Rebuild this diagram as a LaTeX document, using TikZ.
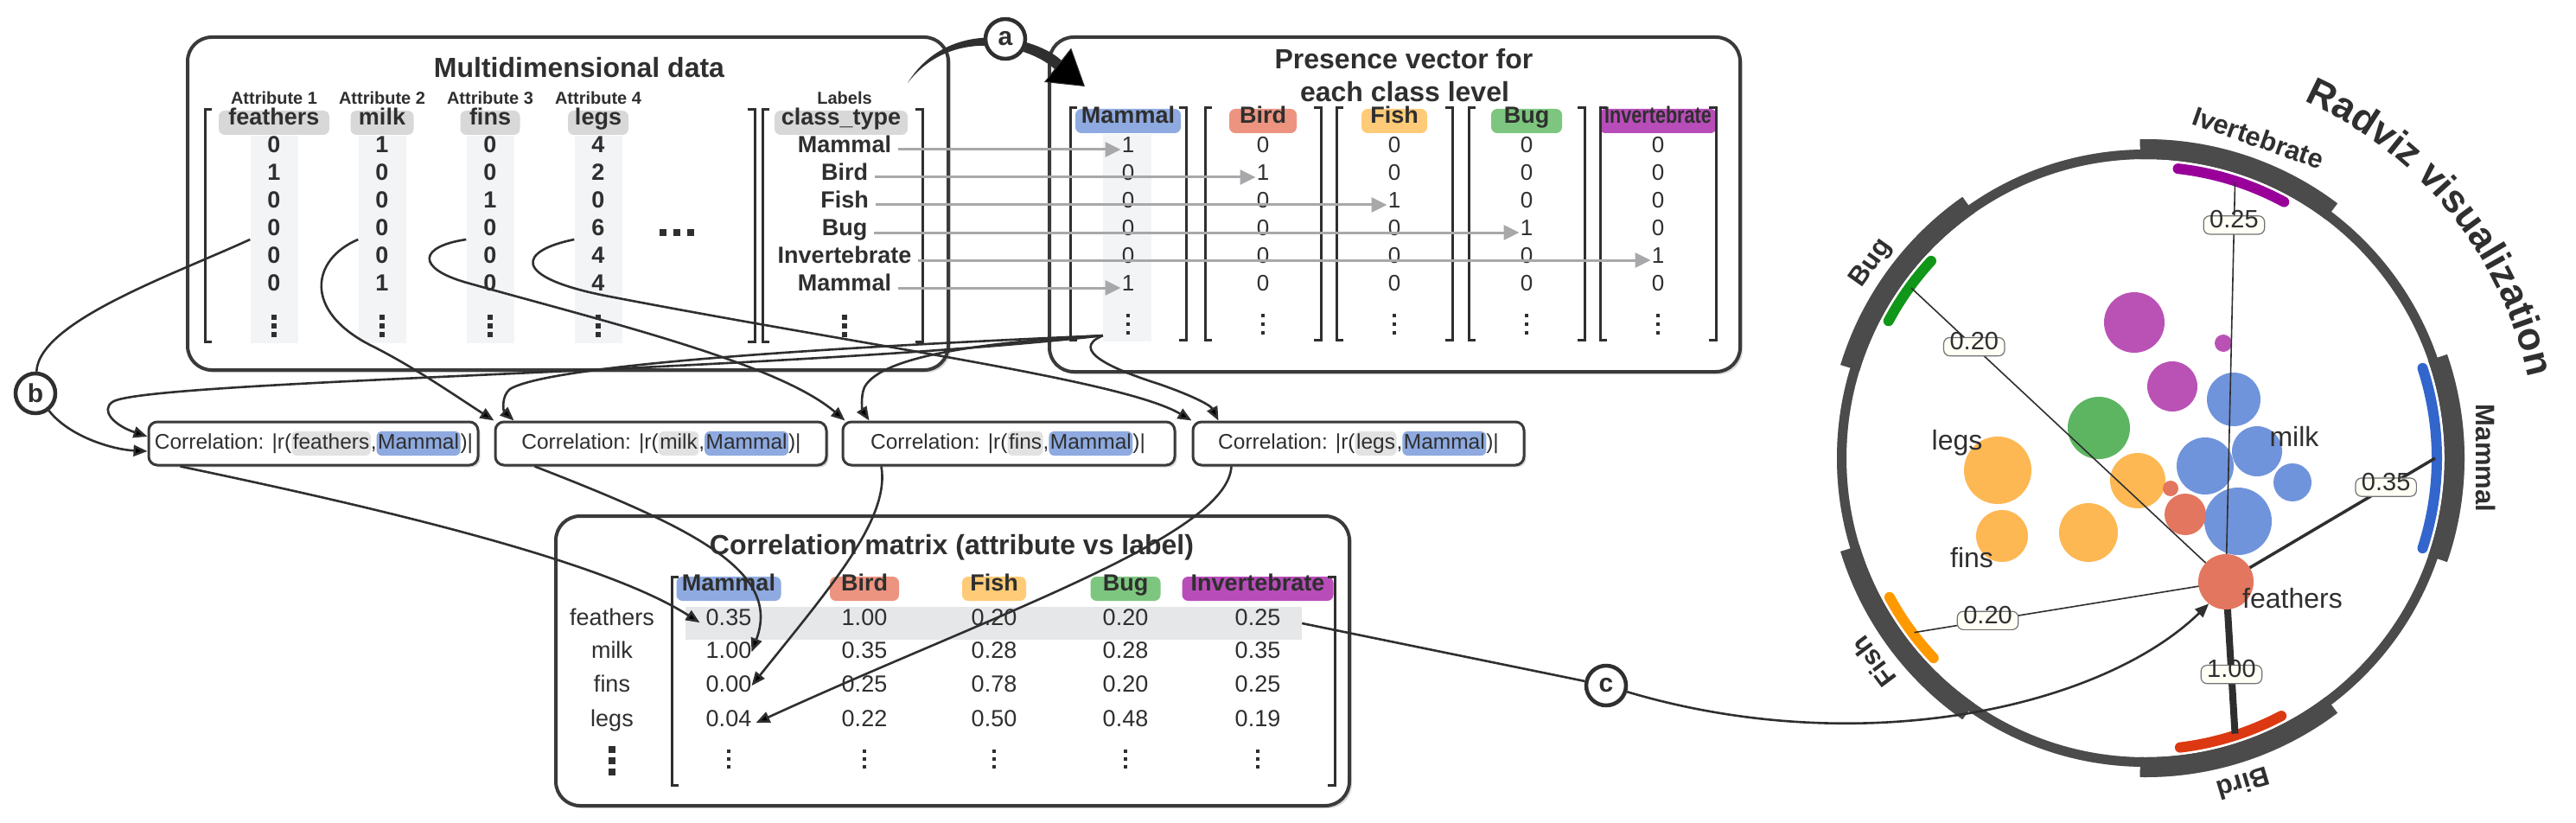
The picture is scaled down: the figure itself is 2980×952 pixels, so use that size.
\documentclass[tikz,border=0pt]{standalone}
\usepackage{fontspec}
\setmainfont{Liberation Sans}
\usepackage{graphicx}
\usetikzlibrary{arrows.meta,shadows,decorations.text,calc}
\newcommand{\fsz}[1]{\fontsize{#1}{#1}\selectfont}
\definecolor{ink}{HTML}{2F2F2F}
\definecolor{boxline}{HTML}{3A3A3A}
\definecolor{pillgray}{HTML}{D8D8D8}
\definecolor{hlgray}{HTML}{E2E2E2}
\definecolor{colbg}{HTML}{F3F4F6}
\definecolor{rowhl}{HTML}{E6E7E9}
\definecolor{cMammal}{HTML}{8EAAE0}
\definecolor{cBird}{HTML}{EC9480}
\definecolor{cFish}{HTML}{FFCB78}
\definecolor{cBug}{HTML}{7DC67F}
\definecolor{cInv}{HTML}{B84DB9}
\definecolor{arrgray}{HTML}{A8A8AA}
\definecolor{ringc}{HTML}{4B4B4B}
\definecolor{aMammal}{HTML}{3366CC}
\definecolor{aBird}{HTML}{DC3912}
\definecolor{aFish}{HTML}{FF9900}
\definecolor{aBug}{HTML}{109618}
\definecolor{aInv}{HTML}{990099}
\definecolor{pBlue}{HTML}{7094DB}
\definecolor{pOrange}{HTML}{FDB853}
\definecolor{pRed}{HTML}{E3765F}
\definecolor{pGreen}{HTML}{5DB562}
\definecolor{pPurple}{HTML}{BA52B6}
\definecolor{cream}{HTML}{FFFFF6}

\newcommand{\hlg}[1]{\tikz[baseline]\node[anchor=base,fill=hlgray,rounded corners=6pt,inner xsep=1.5pt,inner ysep=2.5pt,text height=.72em,text depth=.22em]{#1};}
\newcommand{\hlb}[1]{\tikz[baseline]\node[anchor=base,fill=cMammal,rounded corners=6pt,inner xsep=1.5pt,inner ysep=2.5pt,text height=.72em,text depth=.22em]{#1};}
\newcommand{\bL}[3]{\draw[brk] ({#1+8},-#2) -- ({#1},-#2) -- ({#1},-#3) -- ({#1+8},-#3);}
\newcommand{\bR}[3]{\draw[brk] ({#1-8},-#2) -- ({#1},-#2) -- ({#1},-#3) -- ({#1-8},-#3);}

\tikzset{
  bigbox/.style={draw=boxline, line width=4pt, rounded corners=28pt, fill=white, inner sep=0pt,
     drop shadow={shadow xshift=3pt, shadow yshift=-3pt, opacity=0.3}},
  corrbox/.style={draw=boxline, line width=3pt, rounded corners=10pt, fill=white, inner sep=0pt,
     minimum height=50pt, drop shadow={shadow xshift=2.5pt, shadow yshift=-2.5pt, opacity=0.3}},
  corrtext/.style={font=\fsz{24.5}, text=ink, inner sep=0pt},
  ttl/.style={font=\fsz{32}\bfseries, text=ink, inner sep=0pt},
  attr/.style={font=\fsz{20}\bfseries, text=ink, inner sep=0pt},
  pill/.style={rounded corners=7pt, inner xsep=6pt, inner ysep=0pt, minimum height=28pt,
     text height=.72em, text depth=.2em, font=\fsz{27}\bfseries, text=ink},
  dval/.style={font=\fsz{27}\bfseries, text=ink, inner sep=0pt, text height=.72em, text depth=0pt},
  pval/.style={font=\fsz{26}, text=ink, inner sep=0pt, text height=.72em, text depth=0pt},
  mval/.style={font=\fsz{27}, text=ink, inner sep=0pt, text height=.72em, text depth=0pt},
  colbox/.style={fill=colbg, inner sep=0pt, minimum width=55pt, minimum height=240pt},
  brk/.style={draw=ink, line width=3pt},
  grayarr/.style={draw=arrgray, line width=3pt, -{Triangle[length=18pt,width=17pt]}, shorten <=8pt, shorten >=1pt},
  conn/.style={draw=ink, line width=2.6pt},
  connarr/.style={conn, -{Triangle[length=16pt,width=13pt]}},
  marker/.style={circle, draw=ink, line width=4.5pt, fill=white, minimum size=46pt, inner sep=0pt, font=\fsz{30}\bfseries, text=ink,
     drop shadow={shadow xshift=2pt, shadow yshift=-2pt, opacity=0.3}},
  vlab/.style={draw=black!55, line width=1.2pt, fill=cream, rounded corners=7pt, font=\fsz{29}, text=ink,
     inner xsep=7pt, inner ysep=7pt, text height=.72em, text depth=0pt},
  ptlab/.style={font=\fsz{32}, text=ink, inner sep=0pt},
  anlab/.style={font=\fsz{31}\bfseries, text=ink, inner sep=0pt, anchor=base},
  pics/vdts/.style args={#1/#2}{code={\foreach \k in {-1,0,1} \fill[ink] ({-#1/2},{\k*#2-#1/2}) rectangle ++(#1,#1);}},
}

\begin{document}
\begin{tikzpicture}[x=1pt,y=1pt]
\useasboundingbox (0,0) rectangle (2980,-952);
\fill[white] (0,0) rectangle (2980,-952);

% ---------- big boxes
\node[bigbox, minimum width=880pt, minimum height=385pt] (data) at (657,-235.5) {};
\node[bigbox, minimum width=799pt, minimum height=387pt] (pres) at (1613.5,-236.5) {};
\node[bigbox, minimum width=918pt, minimum height=335pt] (cmat) at (1102,-764.5) {};

\node[ttl] (tdata) at (670,-78) {Multidimensional data};
\node[ttl] (tpres1) at (1624,-68) {Presence vector for};
\node[ttl] (tpres2) at (1625,-106) {each class level};
\node[ttl] (tmat) at (1101,-633) {Correlation matrix (attribute vs label)};

% ---------- multidimensional data
\foreach \x/\nm/\w/\va/\vb/\vc/\vd/\ve/\vf [count=\i] in
  {317/feathers/128/0/1/0/0/0/0, 442/milk/73/1/0/0/0/0/1, 567/fins/69/0/0/1/0/0/0, 692/legs/70/4/2/0/6/4/4}{
  \node[colbox] (dcol\i) at (\x,-277) {};
  \node[attr] (datt\i) at (\x,-113) {Attribute \i};
  \node[pill, fill=pillgray, minimum width=\w pt] (dhd\i) at (\x,-142) {\nm};
  \foreach \v [count=\j] in {\va,\vb,\vc,\vd,\ve,\vf}
    \node[dval] (d\i-\j) at (\x,{-173-32*(\j-1)}) {\v};
  \pic at (\x,-377) {vdts={5.5/10}};
}
\node[attr] (dlabh) at (977,-113) {Labels};
\node[pill, fill=pillgray, minimum width=154pt] (dcls) at (973,-142) {class\_type};
\foreach \lb [count=\j] in {Mammal,Bird,Fish,Bug,Invertebrate,Mammal}
  \node[dval] (lb\j) at (977,{-173-32*(\j-1)}) {\lb};
\pic at (977,-377) {vdts={5.5/10}};
\foreach \xx in {767,783,799} \fill[ink] ({\xx-4},-265) rectangle ++(8,-8);
\bL{237}{127}{395} \bR{873}{127}{395} \bL{882}{127}{395} \bR{1067}{127}{395}

% ---------- presence vectors
\node[colbox, minimum width=56pt] (pmcol) at (1304,-275) {};
\foreach \x/\nm/\cc/\w/\va/\vb/\vc/\vd/\ve/\vf [count=\k] in
  {1305/Mammal/cMammal/122/1/0/0/0/0/1, 1461/Bird/cBird/78/0/1/0/0/0/0, 1613/Fish/cFish/76/0/0/1/0/0/0,
   1766/Bug/cBug/82/0/0/0/1/0/0, 1918/{\scalebox{0.8}[1]{Invertebrate}}/cInv/135/0/0/0/0/1/0}{
  \node[pill, fill=\cc, minimum width=\w pt] (phd\k) at (\x,-140) {\nm};
  \foreach \v [count=\j] in {\va,\vb,\vc,\vd,\ve,\vf}
    \node[pval] (p\k-\j) at (\x,{-173-32*(\j-1)}) {\v};
  \pic at (\x,-375) {vdts={4.5/10}};
  \bL{\x-67}{125}{393} \bR{\x+67}{125}{393}
}
\foreach \j/\k in {1/1,2/2,3/3,4/4,5/5,6/1}
  \draw[grayarr] (lb\j.east) -- (p\k-\j.west);

% ---------- correlation boxes
\node[corrbox, minimum width=381pt] (c1) at (362.5,-513) {};
\node[corrbox, minimum width=383pt] (c2) at (764.5,-513) {};
\node[corrbox, minimum width=384pt] (c3) at (1167,-513) {};
\node[corrbox, minimum width=383pt] (c4) at (1571.5,-513) {};
\node[corrtext] (c1t) at (363,-513) {Correlation: |r(\hlg{feathers},\hlb{Mammal})|};
\node[corrtext] (c2t) at (765,-513) {Correlation: |r(\hlg{milk},\hlb{Mammal})|};
\node[corrtext] (c3t) at (1166,-513) {Correlation: |r(\hlg{fins},\hlb{Mammal})|};
\node[corrtext] (c4t) at (1571.5,-513) {Correlation: |r(\hlg{legs},\hlb{Mammal})|};

% ---------- correlation matrix
\node[fill=rowhl, inner sep=0pt, minimum width=713pt, minimum height=38pt] (hlrow) at (1149.5,-721) {};
\foreach \x/\nm/\cc/\w/\va/\vb/\vc/\vd [count=\k] in
  {843/Mammal/cMammal/121/0.35/1.00/0.00/0.04, 1000/Bird/cBird/80/1.00/0.35/0.25/0.22,
   1150/Fish/cFish/74/0.20/0.28/0.78/0.50, 1302/Bug/cBug/81/0.20/0.28/0.20/0.48,
   1455/Invertebrate/cInv/175/0.25/0.35/0.25/0.19}{
  \node[pill, fill=\cc, minimum width=\w pt] (mhd\k) at (\x,-681) {\nm};
  \node[mval] (m\k-1) at (\x,-720) {\va};
  \node[mval] (m\k-2) at (\x,-758) {\vb};
  \node[mval] (m\k-3) at (\x,-797) {\vc};
  \node[mval] (m\k-4) at (\x,-837) {\vd};
  \pic at (\x,-878) {vdts={4.5/9}};
}
\foreach \r/\yy [count=\j] in {feathers/720, milk/758, fins/797, legs/837}
  \node[mval] (mr\j) at (708,-\yy) {\r};
\pic at (708,-880) {vdts={8/13}};
\bL{777}{667}{908} \bR{1544}{667}{908}

% ---------- markers
\node[marker] (bmark) at (41,-455) {b};

% ---------- attribute connectors
\draw[conn] (dcol1.west) .. controls (200,-318) and (45,-372) .. (bmark);
\draw[connarr] (bmark) .. controls (80,-505) and (130,-520) .. ([yshift=-9pt]c1.west);
\draw[connarr] (dcol2.west) .. controls (360,-300) and (350,-360) .. (430,-400) .. controls (480,-425) and (530,-460) .. (c2.north west);
\draw[connarr] (dcol3.west) .. controls (485,-285) and (480,-310) .. (540,-327) .. controls (700,-372) and (900,-420) .. ([xshift=4pt]c3.north west);
\draw[connarr] (dcol4.west) .. controls (600,-290) and (590,-320) .. (700,-342) .. controls (1000,-400) and (1300,-440) .. (c4.north west);

% ---------- presence connectors
\draw[connarr] ([yshift=7pt]pmcol.south west) .. controls (900,-430) and (165,-440) .. (130,-465) .. controls (116,-475) and (132,-492) .. ([yshift=8pt]c1.west);
\draw[connarr] ([yshift=7pt]pmcol.south west) .. controls (1000,-400) and (640,-420) .. (590,-450) .. controls (580,-458) and (582,-475) .. ([xshift=23pt]c2.north west);
\draw[connarr] ([yshift=7pt]pmcol.south west) .. controls (1150,-395) and (1020,-410) .. (1000,-448) .. controls (995,-460) and (998,-475) .. ([xshift=32pt]c3.north west);
\draw[connarr] ([yshift=7pt]pmcol.south west) .. controls (1235,-405) and (1290,-428) .. (1340,-444) .. controls (1375,-456) and (1400,-468) .. ([xshift=31pt]c4.north west);

% ---------- correlation -> matrix
\draw[connarr] ([xshift=38pt]c1.south west) .. controls (450,-590) and (700,-650) .. ([xshift=-7pt,yshift=-4pt]m1-1.north west);
\draw[connarr] ([xshift=47pt]c2.south west) .. controls (800,-610) and (905,-660) .. (m1-2.north east);
\draw[connarr] ([xshift=46pt]c3.south west) .. controls (1030,-600) and (960,-680) .. (m1-3.north east);
\draw[connarr] ([xshift=46pt]c4.south west) .. controls (1420,-620) and (1150,-710) .. ([xshift=5pt,yshift=-3pt]m1-4.north east);

% ---------- arrow a (tapered)
\fill[ink] ([xshift=-49pt,yshift=-55pt]data.north east) .. controls (1098,-18) and (1200,-42) .. (1229,-71)
   -- (1221,-81) .. controls (1195,-54) and (1102,-28) .. ([xshift=-49pt,yshift=-55pt]data.north east) -- cycle;
\draw[draw=ink, line width=1pt, -{Triangle[length=40pt,width=50pt]}] (1222,-74) -- ([xshift=43pt,yshift=-59pt]pres.north west);
\node[marker] (amark) at (1163,-45) {a};

% ---------- marker c
\node[marker] (cmark) at (1858,-793) {c};
\draw[conn] (hlrow.east) -- (cmark);

% ---------- radviz
\coordinate (C) at (2482,-530);
\begin{scope}[shift={(3,-3)}, opacity=0.25]
  \draw[black, line width=11pt] (C) circle[radius=351.5];
  \foreach \a in {0,72,144,216,288}
    \draw[black, line width=23pt] ($(C)+(\a-19:357.5)$) arc[start angle=\a-19, end angle=\a+19, radius=357.5];
\end{scope}
\draw[ringc, line width=11pt] (C) circle[radius=351.5];
\foreach \a in {0,72,144,216,288}
  \draw[ringc, line width=23pt] ($(C)+(\a-19:357.5)$) arc[start angle=\a-19, end angle=\a+19, radius=357.5];
\foreach \s/\e/\cc in {-18/18/aMammal, 61.6/83.6/aInv, 137.4/151.9/aBug, 208.5/223.3/aFish, 276.8/297.8/aBird}
  \draw[\cc, line width=12pt, line cap=round] ($(C)+(\s:337)$) arc[start angle=\s, end angle=\e, radius=337];

\foreach \px/\py/\pr/\cc in {2469/373/35/pPurple, 2572/397/10/pPurple, 2513/447/29/pPurple, 2428/495/36/pGreen,
   2311/544/39/pOrange, 2316/620/30/pOrange, 2416/616/34/pOrange, 2473/556/32/pOrange,
   2584/462/31/pBlue, 2551/539/33/pBlue, 2611/522/29/pBlue, 2652/558/22/pBlue, 2589/603/39/pBlue,
   2511/565/9/pRed, 2528/595/24/pRed}
  \fill[\cc] (\px,-\py) circle[radius=\pr];

\coordinate (AM) at ($(C)+(0:335)$);
\coordinate (AI) at ($(C)+(72:335)$);
\coordinate (AG) at ($(C)+(144:335)$);
\coordinate (AF) at ($(C)+(217:335)$);
\coordinate (AB) at ($(C)+(288:335)$);
\coordinate (rpc) at (2575,-673);
\draw[ink, line width=1.6pt] (AI) -- node[vlab, pos=0.106] (lvI) {0.25} (rpc);
\draw[ink, line width=1.6pt] (AG) -- node[vlab, pos=0.2] (lvG) {0.20} (rpc);
\draw[ink, line width=3.5pt] (AM) -- node[vlab, pos=0.235] (lvM) {0.35} (rpc);
\draw[ink, line width=1.6pt] (AF) -- node[vlab, pos=0.236] (lvF) {0.20} (rpc);
\draw[ink, line width=8pt] (AB) -- node[vlab, pos=0.39] (lvB) {1.00} (rpc);
\node[circle, fill=pRed, minimum size=64pt, inner sep=0pt] (rp) at (rpc) {};

\node[ptlab] (tlegs) at (2264,-512) {legs};
\node[ptlab] (tfins) at (2281,-645) {fins};
\node[ptlab] (tmilk) at (2654,-505) {milk};
\node[ptlab] (tfeat) at (2652,-692) {feathers};

\node[anlab, rotate=-90] (lM) at ($(C)+(0:382)$) {Mammal};
\node[anlab, rotate=-19.4] (lI) at ($(C)+(70.6:382)$) {Ivertebrate};
\node[anlab, rotate=54.6] (lG) at ($(C)+(144.6:382)$) {Bug};
\node[anlab, rotate=126.8] (lF) at ($(C)+(216.8:382)$) {Fish};
\node[anlab, rotate=196.7] (lB) at ($(C)+(286.7:382)$) {Bird};

\path[decorate, decoration={text along path, text align=center,
   text={|\fsz{45}\bfseries\color{ink}|Radviz visualization}}]
   ($(C)+(72:452)$) arc[start angle=72, end angle=6, radius=452];

\draw[connarr] (cmark) .. controls (2150,-880) and (2430,-820) .. (rp.232);
\end{tikzpicture}
\end{document}
